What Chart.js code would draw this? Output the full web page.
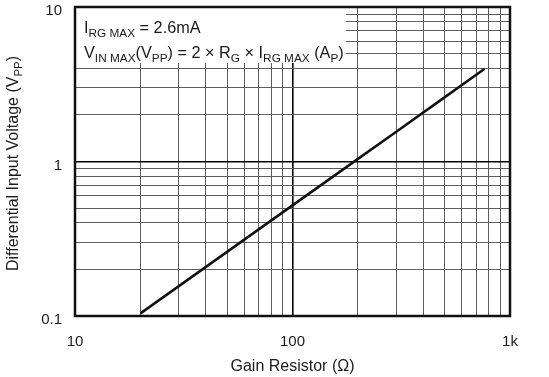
<!DOCTYPE html>
<html>
<head>
<meta charset="utf-8">
<script src="https://cdn.jsdelivr.net/npm/chart.js@4"></script>
<style>
html,body{margin:0;padding:0;background:#fff;}
#wrap{width:549px;height:377px;position:relative;}
</style>
</head>
<body>
<div id="wrap"><canvas id="c" width="549" height="377"></canvas></div>
<script>
// ---- data ----
const gainResistor = [20, 50, 100, 200, 300, 500, 765];          // Ω
const inputVoltage = [0.104, 0.26, 0.52, 1.04, 1.56, 2.6, 3.98]; // Vpp
const xGridValues = [10,20,30,40,50,60,70,80,90,100,200,300,400,500,600,700,800,900,1000];
const yGridValues = [0.1,0.2,0.3,0.4,0.5,0.6,0.7,0.8,0.9,1,2,3,4,5,6,7,8,9,10];
const xTickLabels = {10:'10', 100:'100', 1000:'1k'};
const yTickLabels = {0.1:'0.1', 1:'1', 10:'10'};
const xTitle = 'Gain Resistor (\u03A9)';
const yTitleParts = [['Differential Input Voltage (V', false], ['PP', true], [')', false]];
const noteLine1 = [['I', false], ['RG MAX', true], [' = 2.6mA', false]];
const noteLine2 = [['V', false], ['IN MAX', true], ['(V', false], ['PP', true], [') = 2 \u00D7 R', false], ['G', true], [' \u00D7 I', false], ['RG MAX', true], [' (A', false], ['P', true], [')', false]];

const FONT = '"Liberation Sans", Arial, Helvetica, sans-serif';
const isDecade = v => Math.abs(Math.log10(v) - Math.round(Math.log10(v))) < 1e-9;

function richWidth(ctx, parts, mainPx, subPx) {
  let w = 0;
  for (const [t, sub] of parts) {
    ctx.font = (sub ? subPx : mainPx) + 'px ' + FONT;
    w += ctx.measureText(t).width;
  }
  return w;
}
function drawRich(ctx, parts, x, y, mainPx, subPx, subDrop) {
  ctx.textBaseline = 'alphabetic';
  ctx.textAlign = 'left';
  for (const [t, sub] of parts) {
    ctx.font = (sub ? subPx : mainPx) + 'px ' + FONT;
    ctx.fillText(t, x, sub ? y + subDrop : y);
    x += ctx.measureText(t).width;
  }
}

const decor = {
  id: 'decor',
  beforeDatasetsDraw(chart) {
    const ctx = chart.ctx, a = chart.chartArea;
    ctx.save();
    ctx.fillStyle = '#fff';
    ctx.fillRect(a.left + 1, a.top + 1, 345 - a.left, 62 - a.top);
    ctx.fillStyle = '#1a1a1a';
    drawRich(ctx, noteLine1, 84, 33, 16.3, 11.8, 3.5);
    drawRich(ctx, noteLine2, 84, 58, 16.3, 11.8, 3.5);
    ctx.restore();
  },
  afterDraw(chart) {
    const ctx = chart.ctx, a = chart.chartArea;
    ctx.save();
    ctx.strokeStyle = '#111';
    ctx.lineWidth = 2.5;
    ctx.strokeRect(a.left, a.top, a.right - a.left, a.bottom - a.top);
    ctx.fillStyle = '#1a1a1a';
    ctx.font = '16px ' + FONT;
    ctx.textAlign = 'center';
    ctx.textBaseline = 'alphabetic';
    ctx.fillText(xTitle, (a.left + a.right) / 2, 371);
    const w = richWidth(ctx, yTitleParts, 16, 11.5);
    ctx.translate(12, 163.5);
    ctx.rotate(-Math.PI / 2);
    drawRich(ctx, yTitleParts, -w / 2, 6, 16, 11.5, 3.5);
    ctx.restore();
  }
};

const gridColor = c => (c.tick && isDecade(c.tick.value)) ? '#000' : '#5e5e5e';
const gridWidth = c => (c.tick && isDecade(c.tick.value)) ? 1.6 : 1;
const zeroPad = s => { s.paddingTop = 0; s.paddingBottom = 0; s.paddingLeft = 0; s.paddingRight = 0; };

new Chart(document.getElementById('c'), {
  type: 'line',
  data: {
    datasets: [{
      data: gainResistor.map((r, i) => ({x: r, y: inputVoltage[i]})),
      borderColor: '#111',
      borderWidth: 2.5,
      pointRadius: 0,
      tension: 0,
      fill: false
    }]
  },
  options: {
    responsive: false,
    animation: false,
    devicePixelRatio: 1,
    layout: {padding: {top: 7, right: 39, left: 0, bottom: 0}},
    plugins: {legend: {display: false}, tooltip: {enabled: false}},
    scales: {
      x: {
        type: 'logarithmic',
        min: 10, max: 1000,
        afterFit: s => { s.height = 61; zeroPad(s); },
        afterBuildTicks: s => { s.ticks = xGridValues.map(v => ({value: v})); },
        grid: {color: gridColor, lineWidth: gridWidth, drawTicks: false},
        border: {display: false},
        ticks: {
          autoSkip: false, maxRotation: 0, padding: 17,
          color: '#1a1a1a', font: {family: FONT, size: 15},
          callback: v => xTickLabels[v] || ''
        }
      },
      y: {
        type: 'logarithmic',
        min: 0.1, max: 10,
        afterFit: s => { s.width = 75; zeroPad(s); },
        afterBuildTicks: s => { s.ticks = yGridValues.map(v => ({value: v})); },
        grid: {color: gridColor, lineWidth: gridWidth, drawTicks: false},
        border: {display: false},
        ticks: {
          autoSkip: false, padding: 13, labelOffset: 4,
          color: '#1a1a1a', font: {family: FONT, size: 15},
          callback: v => yTickLabels[v] || ''
        }
      }
    }
  },
  plugins: [decor]
});
</script>
</body>
</html>
